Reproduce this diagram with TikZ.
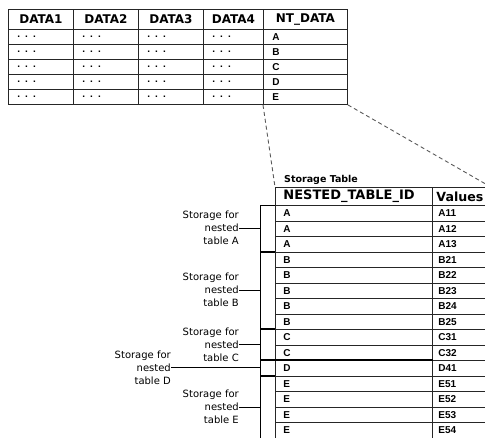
\documentclass[tikz,border=0pt]{standalone}
\usepackage{fontspec}
\setmainfont{DejaVu Sans}
\newfontfamily\cellfont{Liberation Sans}
\usetikzlibrary{positioning}

\begin{document}
\begin{tikzpicture}[
    x=1pt, y=-1pt,
    tabcell/.style={draw=black!85, line width=0.9pt, anchor=north west, inner ysep=0pt},
    headcell/.style={tabcell, inner xsep=0pt, minimum height=20pt, font=\bfseries\fontsize{12}{14}\selectfont},
    datacell/.style={tabcell, inner xsep=9pt, minimum height=15pt, align=left, font=\cellfont\bfseries\fontsize{10}{11}\selectfont},
    stheadcell/.style={tabcell, minimum height=18pt, align=left, font=\bfseries\fontsize{13}{15}\selectfont},
    stcell/.style={tabcell, minimum height=15.5pt, align=left, font=\cellfont\bfseries\fontsize{10}{11}\selectfont},
    storelbl/.style={align=right, inner sep=0pt, font=\fontsize{10}{13}\selectfont},
    brk/.style={line width=0.8pt},
    tick/.style={line width=2pt},
    dashline/.style={dash pattern=on 4pt off 3pt, line width=0.9pt, black!65}
]

\useasboundingbox (0,0) rectangle (485,437);
\clip (0,0) rectangle (485,437);

% Base table
\foreach \c/\x/\w/\t in {1/8/65/DATA1, 2/73/65/DATA2, 3/138/65/DATA3, 4/203/60/DATA4, 5/263/84/NT\_DATA} {
    \node[headcell, minimum width=\w pt] (h\c) at (\x,9) {\t};
}
\foreach \r in {1,...,5} {
    \foreach \c/\x/\tw in {1/8/47, 2/73/47, 3/138/47, 4/203/42} {
        \node[datacell, text width=\tw pt] (d\r\c) at (\x, {29+15*(\r-1)}) {. . .};
    }
}
\foreach \l [count=\r] in {A,B,C,D,E} {
    \node[datacell, text width=66pt] (nt\r) at (263, {29+15*(\r-1)}) {\l};
}

% Storage table
\node[stheadcell, inner xsep=8pt, text width=141pt] (sid) at (275,187) {NESTED\_TABLE\_ID};
\node[stheadcell, inner xsep=4pt, text width=50pt, font=\bfseries\fontsize{12.6}{15}\selectfont] (sval) at (432,187) {Values};
\node[above right=2pt and 9pt of sid.north west, inner sep=0pt, font=\bfseries\fontsize{9.5}{10}\selectfont] (sttitle) {Storage Table};

\foreach \l/\v [count=\r] in {A/A11, A/A12, A/A13, B/B21, B/B22, B/B23, B/B24, B/B25, C/C31, C/C32, D/D41, E/E51, E/E52, E/E53, E/E54} {
    \node[stcell, inner xsep=8pt, text width=141pt] (id\r) at (275, {205+15.5*(\r-1)}) {\l};
    \node[stcell, inner xsep=6pt, text width=46pt] (val\r) at (432, {205+15.5*(\r-1)}) {\v};
}

\draw[dashline] (nt5.south west) -- (sid.north west);
\draw[dashline] (nt5.south east) -- (sval.north east);

% Brackets
\draw[brk] ([xshift=-15pt]id1.north west) -- ([xshift=-15pt]id15.south west);
\draw[brk] ([xshift=-15pt]id1.north west) -- (id1.north west);
\foreach \r in {4,9,11,12} {
    \draw[tick] ([xshift=-15pt]id\r.north west) -- (id\r.north west);
}
\draw[tick] (id11.north west) -- (id11.north east);

\path ([xshift=-15pt]id1.north west) -- ([xshift=-15pt]id4.north west) coordinate[midway] (mA);
\path ([xshift=-15pt]id4.north west) -- ([xshift=-15pt]id9.north west) coordinate[midway] (mB);
\path ([xshift=-15pt]id9.north west) -- ([xshift=-15pt]id11.north west) coordinate[midway] (mC);
\path ([xshift=-15pt]id11.north west) -- ([xshift=-15pt]id12.north west) coordinate[midway] (mD);
\path ([xshift=-15pt]id12.north west) -- ([xshift=-15pt]id15.south west) coordinate[midway] (mE);

\node[storelbl, left=21pt of mA] (lblA) {Storage for\\nested\\table A};
\node[storelbl, left=21pt of mB] (lblB) {Storage for\\nested\\table B};
\node[storelbl, left=21pt of mC] (lblC) {Storage for\\nested\\table C};
\node[storelbl, left=89pt of mD] (lblD) {Storage for\\nested\\table D};
\node[storelbl, left=21pt of mE] (lblE) {Storage for\\nested\\table E};

\foreach \g in {A,B,C,D,E} {
    \draw[brk] (lbl\g) -- (m\g);
}

\end{tikzpicture}
\end{document}
